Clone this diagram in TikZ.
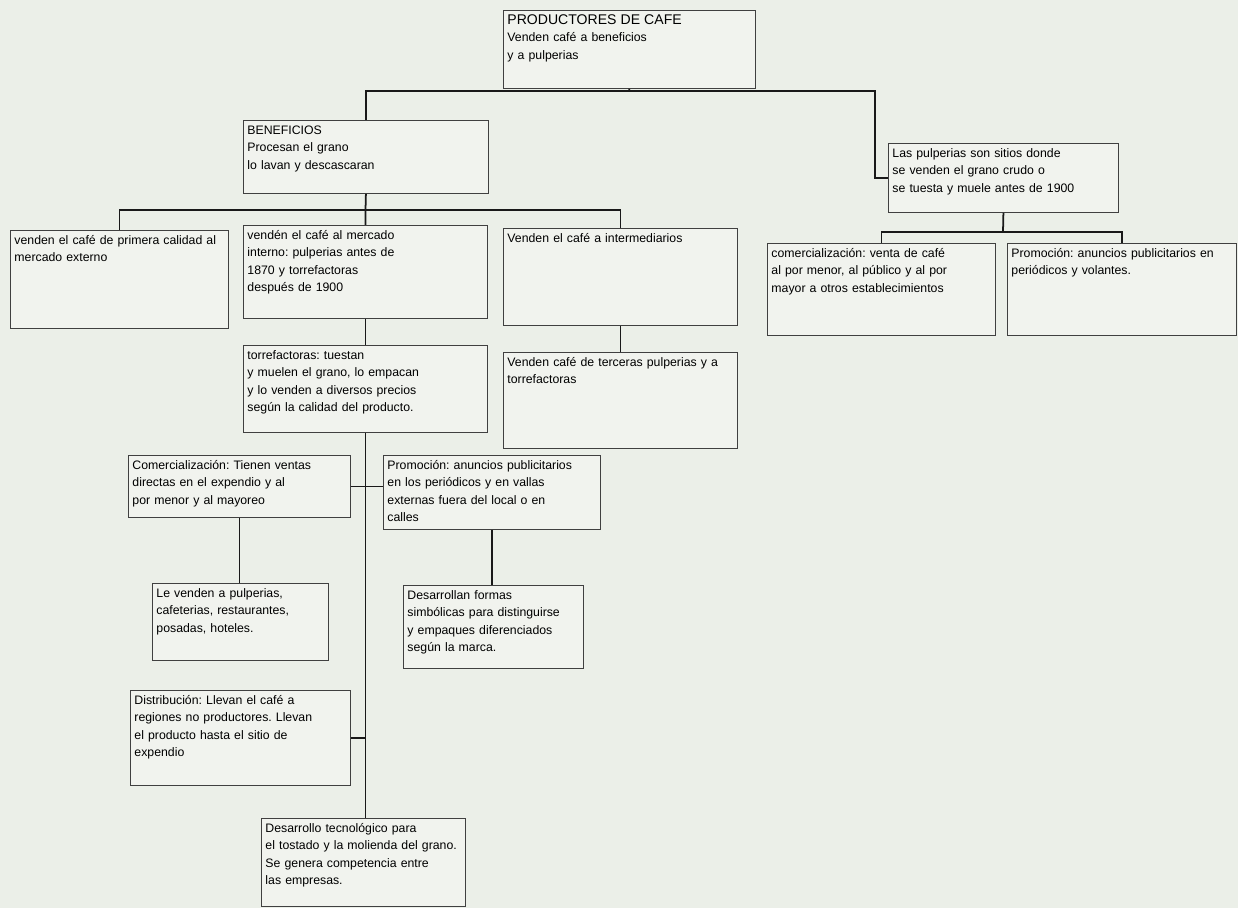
\documentclass[tikz,border=0pt]{standalone}
\usepackage{fontspec}
\setmainfont{Liberation Sans}
\frenchspacing
\definecolor{papel}{RGB}{235,239,232}
\definecolor{cajafondo}{RGB}{241,243,238}

\begin{document}
\begin{tikzpicture}[x=0.02cm, y=-0.02cm]
    % Styles
    \tikzstyle{caja} = [rectangle, draw=black!75, line width=0.5pt, fill=cajafondo,
        anchor=north west, align=left, inner sep=0.08cm, text height=0.2cm,
        font=\fontsize{7}{9.9}\selectfont, text=black]
    \tikzstyle{linea} = [line width=1pt, draw=black!90]

    \fill [papel] (0,0) rectangle (1238,908);
    \useasboundingbox (0,0) rectangle (1238,908);

    % Nodes
    \node [caja, text width=4.88cm, text depth=1.20cm] (productores) at (503,10)
        {{\fontsize{8}{9.9}\selectfont PRODUCTORES DE CAFE}\\Venden café a beneficios\\y a pulperias};
    \node [caja, text width=4.74cm, text depth=1.10cm] (beneficios) at (243,120)
        {BENEFICIOS\\Procesan el grano\\lo lavan y descascaran};
    \node [caja, text width=4.44cm, text depth=1.02cm] (pulperias) at (888,143)
        {Las pulperias son sitios donde\\se venden el grano crudo o\\se tuesta y muele antes de 1900};
    \node [caja, text width=4.20cm, text depth=1.60cm] (externo) at (10,230)
        {venden el café de primera calidad al\\mercado externo};
    \node [caja, text width=4.72cm, text depth=1.50cm] (interno) at (243,225)
        {vendén el café al mercado\\interno: pulperias antes de\\1870 y torrefactoras\\después de 1900};
    \node [caja, text width=4.52cm, text depth=1.58cm] (intermed) at (503,228)
        {Venden el café a intermediarios};
    \node [caja, text width=4.40cm, text depth=1.48cm] (comercio) at (767,243)
        {comercialización: venta de café\\al por menor, al público y al por\\mayor a otros establecimientos};
    \node [caja, text width=4.42cm, text depth=1.48cm] (volantes) at (1007,243)
        {Promoción: anuncios publicitarios en\\periódicos y volantes.};
    \node [caja, text width=4.72cm, text depth=1.38cm] (torref) at (243,345)
        {torrefactoras: tuestan\\y muelen el grano, lo empacan\\y lo venden a diversos precios\\según la calidad del producto.};
    \node [caja, text width=4.52cm, text depth=1.56cm] (terceras) at (503,352)
        {Venden café de terceras pulperias y a\\torrefactoras};
    \node [caja, text width=4.28cm, text depth=0.88cm] (ventas) at (128,455)
        {Comercialización: Tienen ventas\\directas en el expendio y al\\por menor y al mayoreo};
    \node [caja, text width=4.18cm, text depth=1.12cm] (vallas) at (383,455)
        {Promoción: anuncios publicitarios\\en los periódicos y en vallas\\externas fuera del local o en\\calles};
    \node [caja, text width=3.36cm, text depth=1.18cm] (clientes) at (152,583)
        {Le venden a pulperias,\\cafeterias, restaurantes,\\posadas, hoteles.};
    \node [caja, text width=3.44cm, text depth=1.30cm] (marca) at (403,585)
        {Desarrollan formas\\simbólicas para distinguirse\\y empaques diferenciados\\según la marca.};
    \node [caja, text width=4.24cm, text depth=1.54cm] (distrib) at (130,690)
        {Distribución: Llevan el café a\\regiones no productores. Llevan\\el producto hasta el sitio de\\expendio};
    \node [caja, text width=3.92cm, text depth=1.40cm] (tecno) at (261,818)
        {Desarrollo tecnológico para\\el tostado y la molienda del grano.\\Se genera competencia entre\\las empresas.};

    \coordinate (ramaP) at (629,91);
    \coordinate (ramaL) at (875,91);
    \coordinate (ramaB) at (365.5,210);
    \coordinate (ramaC) at (1003,232);

    % Lines
    \draw [linea] (productores.south) -- (ramaP);
    \draw [linea] (ramaP) -| (beneficios.north);
    \draw [linea] (ramaP) -- (ramaL) |- (pulperias.west);
    \draw [linea] (beneficios.south) -- (ramaB);
    \draw [linea] (ramaB) -| (externo.north);
    \draw [linea] (ramaB) -| (intermed.north);
    \draw [linea] (ramaB) -- (interno.north);
    \draw [linea] (pulperias.south) -- (ramaC);
    \draw [linea] (ramaC) -| (comercio.north);
    \draw [linea] (ramaC) -| (volantes.north);
    \draw [linea] (interno.south) -- (torref.north);
    \draw [linea] (intermed.south) -- (terceras.north);
    \draw [linea] (torref.south) -- (torref.south |- tecno.north);
    \draw [linea] (ventas.east) -- (ventas.east -| vallas.west);
    \draw [linea] (ventas.south) -- (ventas.south |- clientes.north);
    \draw [linea] (vallas.south) -- (vallas.south |- marca.north);
    \draw [linea] (distrib.east) -- (distrib.east -| torref.south);
\end{tikzpicture}
\end{document}
